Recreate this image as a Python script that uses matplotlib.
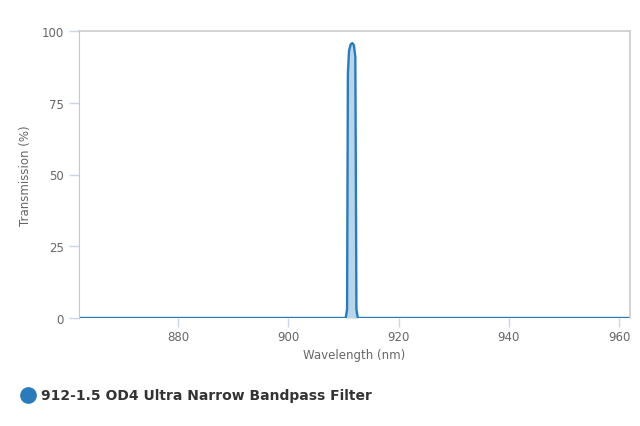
import numpy as np
import matplotlib.pyplot as plt

# transmission curve of the filter
wavelength = [862, 880, 900, 910.4, 910.65, 910.8, 911.0, 911.3, 911.6, 911.9, 912.15, 912.35, 912.6, 920, 940, 962]
transmission = [0, 0, 0, 0, 3, 85, 93, 95.3, 95.8, 95, 91, 3, 0, 0, 0, 0]
series_name = '912-1.5 OD4 Ultra Narrow Bandpass Filter'

xticks = [880, 900, 920, 940, 960]
yticks = [0, 25, 50, 75, 100]

line_color = '#2b7bba'
fill_color = '#b9d5ea'
tick_color = '#ccd6eb'
label_color = '#666666'

fig = plt.figure(figsize=(6.4, 4.27), dpi=100)
ax = fig.add_axes([79/640, 1 - 319/427, (630-79)/640, (319-32)/427])

ax.fill_between(wavelength, transmission, 0, color=fill_color, lw=0)
ax.plot(wavelength, transmission, color=line_color, lw=1.7, solid_joinstyle='round')

ax.set_xlim(862, 962)
ax.set_ylim(0, 100)
ax.set_xticks(xticks)
ax.set_yticks(yticks)

for s in ['top', 'right']:
    ax.spines[s].set_color('#cccccc')
    ax.spines[s].set_linewidth(1.2)
ax.spines['left'].set_color('#c0c8d8')
ax.spines['bottom'].set_visible(False)

ax.tick_params(axis='both', colors=tick_color, labelcolor=label_color, labelsize=8.5, width=1)
ax.tick_params(axis='y', length=7, pad=4)
ax.tick_params(axis='x', length=6.5, pad=2)

ax.set_xlabel('Wavelength (nm)', color=label_color, fontsize=8.5, labelpad=4)
ax.set_ylabel('Transmission (%)', color=label_color, fontsize=8.5, labelpad=7)

# legend drawn below the chart
fig.add_artist(plt.Line2D([28/640], [1 - 396/427], marker='o', markersize=11,
                          color=line_color, transform=fig.transFigure))
fig.text(41/640, 1 - 396/427, series_name, fontsize=10, fontweight='bold',
         color='#333333', va='center', ha='left')

fig.savefig('out.png', dpi=100)
